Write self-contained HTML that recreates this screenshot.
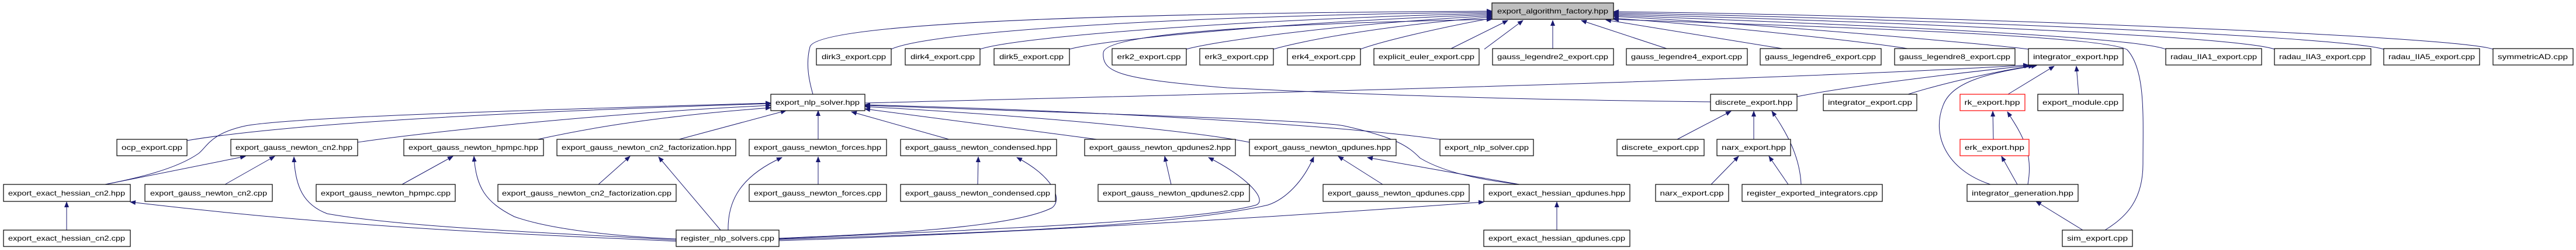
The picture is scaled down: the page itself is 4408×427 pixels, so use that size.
<!DOCTYPE html>
<html><head><meta charset="utf-8"><style>
html,body{margin:0;padding:0;background:#fff;}
svg{display:block;}
text{font-family:"Liberation Sans","DejaVu Sans",sans-serif;font-size:12px;fill:#000;}
.b{fill:#fff;stroke:#000;stroke-width:1.2;}
.g{fill:#bfbfbf;stroke:#000;stroke-width:1.2;}
.r{fill:#fff;stroke:#ff0000;stroke-width:1.2;}
path.e{fill:none;stroke:#191970;stroke-width:1;}
</style></head><body>
<svg width="4408" height="427" viewBox="0 0 4408 427" xmlns="http://www.w3.org/2000/svg">
<defs><marker id="a" viewBox="0 0 10 10" refX="9" refY="5" markerWidth="10" markerHeight="10" markerUnits="userSpaceOnUse" orient="auto-start-reverse"><path d="M0,1 L10,5 L0,9 z" fill="#191970"/></marker></defs>
<g id="edges">
<path class="e" marker-start="url(#a)" d="M2553,21 C2100,25 1600,50 1525,84"/>
<path class="e" marker-start="url(#a)" d="M2553,23 C2200,30 1750,60 1677,84"/>
<path class="e" marker-start="url(#a)" d="M2553,25 C2250,35 1900,65 1830,84"/>
<path class="e" marker-start="url(#a)" d="M2553,27 C2300,40 2080,70 2030,84"/>
<path class="e" marker-start="url(#a)" d="M2553,29 C2350,45 2220,72 2179,84"/>
<path class="e" marker-start="url(#a)" d="M2553,31 C2450,50 2360,72 2328,84"/>
<path class="e" marker-start="url(#a)" d="M2580,35 L2481,84"/>
<path class="e" marker-start="url(#a)" d="M2606,35 L2540,84"/>
<path class="e" marker-start="url(#a)" d="M2657,35 L2657,83"/>
<path class="e" marker-start="url(#a)" d="M2706,35 L2852,83"/>
<path class="e" marker-start="url(#a)" d="M2748,34 L3050,83"/>
<path class="e" marker-start="url(#a)" d="M2761,31 C2950,45 3200,72 3270,84"/>
<path class="e" marker-start="url(#a)" d="M2761,28 C3000,40 3400,75 3471,84"/>
<path class="e" marker-start="url(#a)" d="M2761,26 C3100,40 3640,60 3706,84"/>
<path class="e" marker-start="url(#a)" d="M2761,24 C3150,35 3820,60 3892,84"/>
<path class="e" marker-start="url(#a)" d="M2761,22 C3200,30 4000,60 4079,84"/>
<path class="e" marker-start="url(#a)" d="M2761,20 C3250,25 4200,60 4266,84"/>
<path class="e" marker-start="url(#a)" d="M2553,19 C2000,22 1400,35 1386,80 C1378,110 1385,140 1391,161"/>
<path class="e" marker-start="url(#a)" d="M2553,33 C2200,40 1890,55 1888,90 C1885,125 1920,135 2100,150 C2500,170 2800,172 2927,174"/>
<path class="e" marker-start="url(#a)" d="M2761,33 C3100,45 3600,60 3640,85 C3672,120 3667,200 3667,280 C3667,340 3640,370 3602,393"/>
<path class="e" marker-start="url(#a)" d="M3471,111 C3000,140 1900,165 1480,176"/>
<path class="e" marker-start="url(#a)" d="M3473,112 C3300,130 3150,150 3075,165"/>
<path class="e" marker-start="url(#a)" d="M3480,112 C3380,128 3300,150 3265,161"/>
<path class="e" marker-start="url(#a)" d="M3485,112 C3400,125 3340,140 3325,180 C3305,230 3330,290 3406,315"/>
<path class="e" marker-start="url(#a)" d="M3515,113 L3436,161"/>
<path class="e" marker-start="url(#a)" d="M3553,113 L3557,161"/>
<path class="e" marker-start="url(#a)" d="M3410,190 L3411,238"/>
<path class="e" marker-start="url(#a)" d="M3435,191 C3460,230 3480,260 3470,315"/>
<path class="e" marker-start="url(#a)" d="M3425,267 L3452,315"/>
<path class="e" marker-start="url(#a)" d="M3484,344 L3564,393"/>
<path class="e" marker-start="url(#a)" d="M2962,190 L2870,238"/>
<path class="e" marker-start="url(#a)" d="M3001,190 L3001,238"/>
<path class="e" marker-start="url(#a)" d="M3032,190 C3060,230 3080,270 3082,315"/>
<path class="e" marker-start="url(#a)" d="M2975,267 L2928,315"/>
<path class="e" marker-start="url(#a)" d="M3027,267 L3060,315"/>
<path class="e" marker-start="url(#a)" d="M1319,177 C900,190 500,210 320,240"/>
<path class="e" marker-start="url(#a)" d="M1319,176 C900,188 500,200 420,215 C360,228 355,250 340,262 C300,290 230,305 180,315"/>
<path class="e" marker-start="url(#a)" d="M1319,180 C1000,195 700,230 612,243"/>
<path class="e" marker-start="url(#a)" d="M1319,184 C1100,200 980,225 920,238"/>
<path class="e" marker-start="url(#a)" d="M1345,189 L1162,238"/>
<path class="e" marker-start="url(#a)" d="M1400,189 L1400,238"/>
<path class="e" marker-start="url(#a)" d="M1457,191 L1624,238"/>
<path class="e" marker-start="url(#a)" d="M1480,186 L1877,238"/>
<path class="e" marker-start="url(#a)" d="M1480,182 C1800,200 2050,225 2138,243"/>
<path class="e" marker-start="url(#a)" d="M1480,179 C1900,190 2300,215 2464,238"/>
<path class="e" marker-start="url(#a)" d="M1480,180 C1900,195 2250,205 2300,215 C2390,235 2410,250 2430,270 C2480,300 2560,310 2600,315"/>
<path class="e" marker-start="url(#a)" d="M420,267 L180,315"/>
<path class="e" marker-start="url(#a)" d="M470,267 L385,315"/>
<path class="e" marker-start="url(#a)" d="M503,268 C505,320 520,350 560,365 C700,390 1000,400 1157,410"/>
<path class="e" marker-start="url(#a)" d="M775,267 L688,315"/>
<path class="e" marker-start="url(#a)" d="M811,267 C815,320 830,345 880,370 C950,395 1080,405 1157,408"/>
<path class="e" marker-start="url(#a)" d="M1078,267 L1024,315"/>
<path class="e" marker-start="url(#a)" d="M1127,268 L1233,393"/>
<path class="e" marker-start="url(#a)" d="M1338,269 C1270,300 1245,340 1246,393"/>
<path class="e" marker-start="url(#a)" d="M1400,268 L1400,315"/>
<path class="e" marker-start="url(#a)" d="M1674,268 L1673,315"/>
<path class="e" marker-start="url(#a)" d="M1740,269 C1800,300 1820,340 1800,355 C1730,390 1500,400 1333,407"/>
<path class="e" marker-start="url(#a)" d="M1993,267 L2004,315"/>
<path class="e" marker-start="url(#a)" d="M2068,269 C2130,300 2170,340 2150,350 C2050,380 1600,395 1333,408"/>
<path class="e" marker-start="url(#a)" d="M2248,268 C2230,310 2200,340 2170,350 C2000,390 1600,400 1333,409"/>
<path class="e" marker-start="url(#a)" d="M2290,267 L2366,315"/>
<path class="e" marker-start="url(#a)" d="M2340,269 L2600,315"/>
<path class="e" marker-start="url(#a)" d="M223,345 C600,390 900,400 1157,412"/>
<path class="e" marker-start="url(#a)" d="M114,345 L114,393"/>
<path class="e" marker-start="url(#a)" d="M2539,345 C2200,370 1700,400 1333,411"/>
<path class="e" marker-start="url(#a)" d="M2664,345 L2664,393"/>
</g>
<g id="nodes">
<rect class="g" x="2553" y="5" width="208" height="28"/><text x="2657" y="23" text-anchor="middle" textLength="190" lengthAdjust="spacingAndGlyphs">export_algorithm_factory.hpp</text>
<rect class="b" x="1397" y="83" width="128" height="28"/><text x="1461" y="101" text-anchor="middle" textLength="110" lengthAdjust="spacingAndGlyphs">dirk3_export.cpp</text>
<rect class="b" x="1549" y="83" width="128" height="28"/><text x="1613" y="101" text-anchor="middle" textLength="110" lengthAdjust="spacingAndGlyphs">dirk4_export.cpp</text>
<rect class="b" x="1701" y="83" width="129" height="28"/><text x="1765" y="101" text-anchor="middle" textLength="110" lengthAdjust="spacingAndGlyphs">dirk5_export.cpp</text>
<rect class="b" x="1903" y="83" width="127" height="28"/><text x="1966" y="101" text-anchor="middle" textLength="109" lengthAdjust="spacingAndGlyphs">erk2_export.cpp</text>
<rect class="b" x="2053" y="83" width="126" height="28"/><text x="2116" y="101" text-anchor="middle" textLength="109" lengthAdjust="spacingAndGlyphs">erk3_export.cpp</text>
<rect class="b" x="2203" y="83" width="125" height="28"/><text x="2265" y="101" text-anchor="middle" textLength="109" lengthAdjust="spacingAndGlyphs">erk4_export.cpp</text>
<rect class="b" x="2351" y="83" width="180" height="28"/><text x="2441" y="101" text-anchor="middle" textLength="164" lengthAdjust="spacingAndGlyphs">explicit_euler_export.cpp</text>
<rect class="b" x="2554" y="83" width="207" height="28"/><text x="2657" y="101" text-anchor="middle" textLength="190" lengthAdjust="spacingAndGlyphs">gauss_legendre2_export.cpp</text>
<rect class="b" x="2783" y="83" width="207" height="28"/><text x="2886" y="101" text-anchor="middle" textLength="190" lengthAdjust="spacingAndGlyphs">gauss_legendre4_export.cpp</text>
<rect class="b" x="3012" y="83" width="207" height="28"/><text x="3115" y="101" text-anchor="middle" textLength="190" lengthAdjust="spacingAndGlyphs">gauss_legendre6_export.cpp</text>
<rect class="b" x="3242" y="83" width="206" height="28"/><text x="3345" y="101" text-anchor="middle" textLength="190" lengthAdjust="spacingAndGlyphs">gauss_legendre8_export.cpp</text>
<rect class="b" x="3471" y="83" width="162" height="28"/><text x="3552" y="101" text-anchor="middle" textLength="146" lengthAdjust="spacingAndGlyphs">integrator_export.hpp</text>
<rect class="b" x="3706" y="83" width="164" height="28"/><text x="3788" y="101" text-anchor="middle" textLength="148" lengthAdjust="spacingAndGlyphs">radau_IIA1_export.cpp</text>
<rect class="b" x="3892" y="83" width="165" height="28"/><text x="3974" y="101" text-anchor="middle" textLength="148" lengthAdjust="spacingAndGlyphs">radau_IIA3_export.cpp</text>
<rect class="b" x="4079" y="83" width="164" height="28"/><text x="4161" y="101" text-anchor="middle" textLength="148" lengthAdjust="spacingAndGlyphs">radau_IIA5_export.cpp</text>
<rect class="b" x="4266" y="83" width="137" height="28"/><text x="4334" y="101" text-anchor="middle" textLength="120" lengthAdjust="spacingAndGlyphs">symmetricAD.cpp</text>
<rect class="b" x="1319" y="161" width="161" height="28"/><text x="1399" y="179" text-anchor="middle" textLength="144" lengthAdjust="spacingAndGlyphs">export_nlp_solver.hpp</text>
<rect class="b" x="2927" y="161" width="148" height="28"/><text x="3001" y="179" text-anchor="middle" textLength="132" lengthAdjust="spacingAndGlyphs">discrete_export.hpp</text>
<rect class="b" x="3120" y="161" width="160" height="28"/><text x="3200" y="179" text-anchor="middle" textLength="144" lengthAdjust="spacingAndGlyphs">integrator_export.cpp</text>
<rect class="r" x="3354" y="161" width="111" height="28"/><text x="3409" y="179" text-anchor="middle" textLength="95" lengthAdjust="spacingAndGlyphs">rk_export.hpp</text>
<rect class="b" x="3487" y="161" width="146" height="28"/><text x="3560" y="179" text-anchor="middle" textLength="130" lengthAdjust="spacingAndGlyphs">export_module.cpp</text>
<rect class="b" x="200" y="238" width="120" height="28"/><text x="260" y="256" text-anchor="middle" textLength="104" lengthAdjust="spacingAndGlyphs">ocp_export.cpp</text>
<rect class="b" x="395" y="238" width="217" height="28"/><text x="503" y="256" text-anchor="middle" textLength="200" lengthAdjust="spacingAndGlyphs">export_gauss_newton_cn2.hpp</text>
<rect class="b" x="691" y="238" width="239" height="28"/><text x="810" y="256" text-anchor="middle" textLength="222" lengthAdjust="spacingAndGlyphs">export_gauss_newton_hpmpc.hpp</text>
<rect class="b" x="953" y="238" width="306" height="28"/><text x="1106" y="256" text-anchor="middle" textLength="290" lengthAdjust="spacingAndGlyphs">export_gauss_newton_cn2_factorization.hpp</text>
<rect class="b" x="1282" y="238" width="235" height="28"/><text x="1399" y="256" text-anchor="middle" textLength="218" lengthAdjust="spacingAndGlyphs">export_gauss_newton_forces.hpp</text>
<rect class="b" x="1541" y="238" width="267" height="28"/><text x="1674" y="256" text-anchor="middle" textLength="250" lengthAdjust="spacingAndGlyphs">export_gauss_newton_condensed.hpp</text>
<rect class="b" x="1856" y="238" width="258" height="28"/><text x="1985" y="256" text-anchor="middle" textLength="242" lengthAdjust="spacingAndGlyphs">export_gauss_newton_qpdunes2.hpp</text>
<rect class="b" x="2138" y="238" width="251" height="28"/><text x="2263" y="256" text-anchor="middle" textLength="234" lengthAdjust="spacingAndGlyphs">export_gauss_newton_qpdunes.hpp</text>
<rect class="b" x="2464" y="238" width="160" height="28"/><text x="2544" y="256" text-anchor="middle" textLength="144" lengthAdjust="spacingAndGlyphs">export_nlp_solver.cpp</text>
<rect class="b" x="2767" y="238" width="149" height="28"/><text x="2841" y="256" text-anchor="middle" textLength="132" lengthAdjust="spacingAndGlyphs">discrete_export.cpp</text>
<rect class="b" x="2938" y="238" width="126" height="28"/><text x="3001" y="256" text-anchor="middle" textLength="110" lengthAdjust="spacingAndGlyphs">narx_export.hpp</text>
<rect class="r" x="3354" y="238" width="118" height="28"/><text x="3413" y="256" text-anchor="middle" textLength="102" lengthAdjust="spacingAndGlyphs">erk_export.hpp</text>
<rect class="b" x="6" y="315" width="217" height="29"/><text x="114" y="334" text-anchor="middle" textLength="200" lengthAdjust="spacingAndGlyphs">export_exact_hessian_cn2.hpp</text>
<rect class="b" x="248" y="315" width="218" height="29"/><text x="357" y="334" text-anchor="middle" textLength="200" lengthAdjust="spacingAndGlyphs">export_gauss_newton_cn2.cpp</text>
<rect class="b" x="541" y="315" width="238" height="29"/><text x="660" y="334" text-anchor="middle" textLength="222" lengthAdjust="spacingAndGlyphs">export_gauss_newton_hpmpc.cpp</text>
<rect class="b" x="852" y="315" width="305" height="29"/><text x="1004" y="334" text-anchor="middle" textLength="290" lengthAdjust="spacingAndGlyphs">export_gauss_newton_cn2_factorization.cpp</text>
<rect class="b" x="1282" y="315" width="235" height="29"/><text x="1399" y="334" text-anchor="middle" textLength="218" lengthAdjust="spacingAndGlyphs">export_gauss_newton_forces.cpp</text>
<rect class="b" x="1541" y="315" width="265" height="29"/><text x="1673" y="334" text-anchor="middle" textLength="248" lengthAdjust="spacingAndGlyphs">export_gauss_newton_condensed.cpp</text>
<rect class="b" x="1879" y="315" width="259" height="29"/><text x="2008" y="334" text-anchor="middle" textLength="242" lengthAdjust="spacingAndGlyphs">export_gauss_newton_qpdunes2.cpp</text>
<rect class="b" x="2264" y="315" width="250" height="29"/><text x="2389" y="334" text-anchor="middle" textLength="234" lengthAdjust="spacingAndGlyphs">export_gauss_newton_qpdunes.cpp</text>
<rect class="b" x="2539" y="315" width="250" height="29"/><text x="2664" y="334" text-anchor="middle" textLength="234" lengthAdjust="spacingAndGlyphs">export_exact_hessian_qpdunes.hpp</text>
<rect class="b" x="2833" y="315" width="125" height="29"/><text x="2895" y="334" text-anchor="middle" textLength="109" lengthAdjust="spacingAndGlyphs">narx_export.cpp</text>
<rect class="b" x="2981" y="315" width="240" height="29"/><text x="3101" y="334" text-anchor="middle" textLength="224" lengthAdjust="spacingAndGlyphs">register_exported_integrators.cpp</text>
<rect class="b" x="3366" y="315" width="190" height="29"/><text x="3461" y="334" text-anchor="middle" textLength="174" lengthAdjust="spacingAndGlyphs">integrator_generation.hpp</text>
<rect class="b" x="6" y="393" width="217" height="28"/><text x="114" y="411" text-anchor="middle" textLength="200" lengthAdjust="spacingAndGlyphs">export_exact_hessian_cn2.cpp</text>
<rect class="b" x="1157" y="393" width="176" height="28"/><text x="1245" y="411" text-anchor="middle" textLength="160" lengthAdjust="spacingAndGlyphs">register_nlp_solvers.cpp</text>
<rect class="b" x="2539" y="393" width="250" height="28"/><text x="2664" y="411" text-anchor="middle" textLength="234" lengthAdjust="spacingAndGlyphs">export_exact_hessian_qpdunes.cpp</text>
<rect class="b" x="3529" y="393" width="120" height="28"/><text x="3589" y="411" text-anchor="middle" textLength="104" lengthAdjust="spacingAndGlyphs">sim_export.cpp</text>
</g>
</svg>
</body></html>
